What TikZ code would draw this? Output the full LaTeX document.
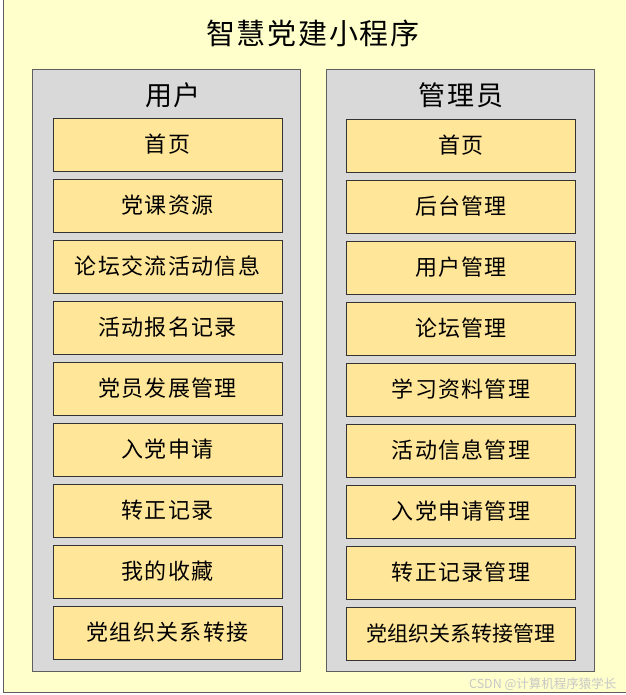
\documentclass[tikz,border=0pt]{standalone}
\usepackage{fontspec}
\newfontfamily\cjk{Noto Sans CJK SC}
\newfontfamily\cjkwide[LetterSpace=6]{Noto Sans CJK SC}
\definecolor{bgyellow}{HTML}{FFFFCC}
\definecolor{pnlgray}{HTML}{D9D9D9}
\definecolor{pnledge}{HTML}{5F5F5F}
\definecolor{boxfill}{HTML}{FFE699}
\definecolor{boxedge}{HTML}{333333}
\tikzset{
    panel/.style={draw=pnledge,fill=pnlgray,line width=1pt,minimum width=268pt,minimum height=601pt,inner sep=0pt},
    header/.style={font=\cjkwide\fontsize{27}{30}\selectfont},
    funcbox/.style={draw=boxedge,fill=boxfill,line width=0.9pt,minimum width=229pt,minimum height=53pt,inner sep=0pt,
        font=\cjkwide\fontsize{22}{26}\selectfont}
}

\begin{document}
\begin{tikzpicture}[x=1pt,y=-1pt]
      \useasboundingbox (0,0) rectangle (625,695);
      \fill[white] (0,0) rectangle (625,695);
      \draw[fill=bgyellow,draw=pnledge,line width=1pt] (3,-10) rectangle (640,692);

      \node[font=\cjkwide\fontsize{29}{32}\selectfont] (Title) at (313,33) {智慧党建小程序};

      % user side
      \node[panel] (PUser) at (166,370.5) {};
      \node[header] (HUser) at (173,95) {用户};
      \node[funcbox] (U1) at (167.5,144.5) {首页};
      \node[funcbox] (U2) at (167.5,205.5) {党课资源};
      \node[funcbox] (U3) at (167.5,266.5) {论坛交流活动信息};
      \node[funcbox] (U4) at (167.5,327.5) {活动报名记录};
      \node[funcbox] (U5) at (167.5,388.5) {党员发展管理};
      \node[funcbox] (U6) at (167.5,449.5) {入党申请};
      \node[funcbox] (U7) at (167.5,510.5) {转正记录};
      \node[funcbox] (U8) at (167.5,571.5) {我的收藏};
      \node[funcbox] (U9) at (167.5,632.5) {党组织关系转接};

      % admin side
      \node[panel] (PAdmin) at (460,370.5) {};
      \node[header] (HAdmin) at (461,95) {管理员};
      \node[funcbox] (A1) at (461,145.5) {首页};
      \node[funcbox] (A2) at (461,206.5) {后台管理};
      \node[funcbox] (A3) at (461,267.5) {用户管理};
      \node[funcbox] (A4) at (461,328.5) {论坛管理};
      \node[funcbox] (A5) at (461,389.5) {学习资料管理};
      \node[funcbox] (A6) at (461,450.5) {活动信息管理};
      \node[funcbox] (A7) at (461,511.5) {入党申请管理};
      \node[funcbox] (A8) at (461,572.5) {转正记录管理};
      \node[funcbox,font=\cjk\fontsize{21}{25}\selectfont] (A9) at (461,633.5) {党组织关系转接管理};

      \node[anchor=east,text=black!22,font=\cjk\fontsize{12.5}{14}\selectfont] (Mark) at (620,684) {CSDN @计算机程序猿学长};
    \end{tikzpicture}
\end{document}
